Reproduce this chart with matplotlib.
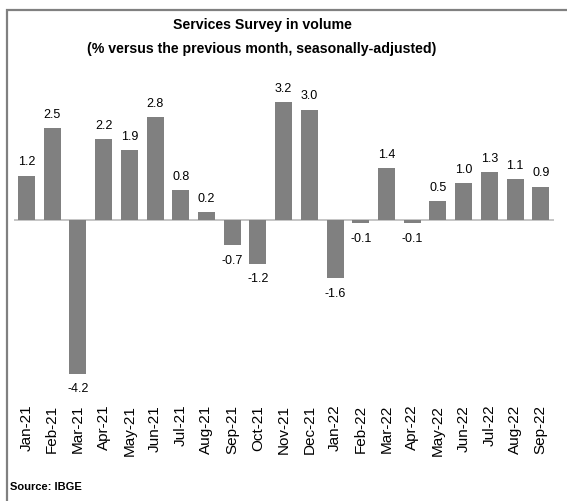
import numpy as np
import matplotlib.pyplot as plt
from matplotlib.patches import Rectangle

months = ['Jan-21', 'Feb-21', 'Mar-21', 'Apr-21', 'May-21', 'Jun-21', 'Jul-21',
          'Aug-21', 'Sep-21', 'Oct-21', 'Nov-21', 'Dec-21', 'Jan-22', 'Feb-22',
          'Mar-22', 'Apr-22', 'May-22', 'Jun-22', 'Jul-22', 'Aug-22', 'Sep-22']
values = [1.2, 2.5, -4.2, 2.2, 1.9, 2.8, 0.8, 0.2, -0.7, -1.2, 3.2, 3.0,
          -1.6, -0.1, 1.4, -0.1, 0.5, 1.0, 1.3, 1.1, 0.9]

plt.rcParams['font.family'] = ['Liberation Sans', 'DejaVu Sans']

W, H = 567, 502
fig = plt.figure(figsize=(W / 100, H / 100), dpi=100)

# outer frame (chart is cropped on the right and bottom)
fig.patches.append(Rectangle((7 / W, -0.1), 1.2, (H - 11) / H + 0.1,
                             transform=fig.transFigure, fill=False,
                             edgecolor='#808080', linewidth=1.6))

ax = fig.add_axes([13.6 / W, 100 / H, 540 / W, 313.4 / H])
x = np.arange(len(months))
ax.bar(x, values, width=0.66, color='#808080', zorder=2)
ax.axhline(0, color='#c0c0c0', linewidth=1.3, zorder=1)

for xi, v in zip(x, values):
    off = 6 if v >= 0 else -6
    va = 'bottom' if v >= 0 else 'top'
    ax.annotate(f'{v:.1f}', (xi, v), xytext=(0, off), textcoords='offset points',
                ha='center', va=va, fontsize=9)

ax.set_xlim(-0.5, len(months) - 0.5)
ax.set_ylim(-4.95, 3.6)
ax.set_xticks(x)
ax.set_xticklabels(months, rotation=90, fontsize=11)
ax.tick_params(axis='x', length=0, pad=2)
ax.set_yticks([])
for s in ax.spines.values():
    s.set_visible(False)
ax.patch.set_visible(False)

fig.text(262 / W, 1 - 25 / H, 'Services Survey in volume', ha='center', va='center',
         fontsize=10.2, fontweight='bold')
fig.text(262 / W, 1 - 49 / H, '(% versus the previous month, seasonally-adjusted)',
         ha='center', va='center', fontsize=10.2, fontweight='bold')
fig.text(10 / W, 1 - 487 / H, 'Source: IBGE', ha='left', va='center',
         fontsize=8, fontweight='bold')

fig.savefig('out.png', dpi=100)
